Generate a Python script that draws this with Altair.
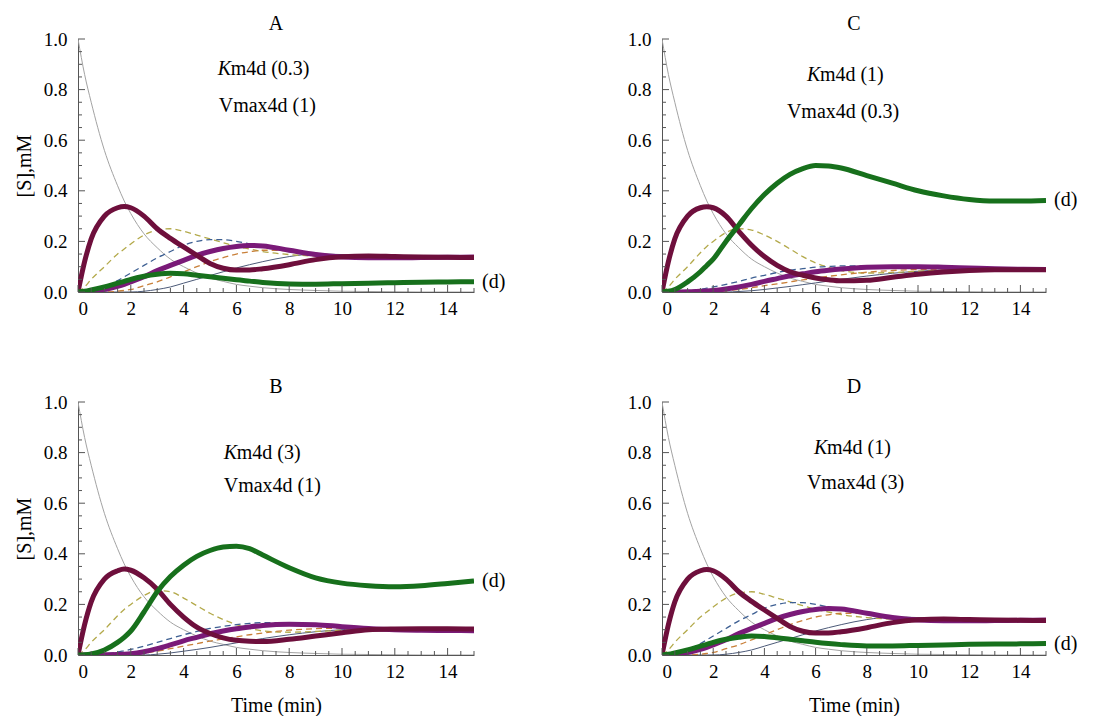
import altair as alt
import pandas as pd

FONT = "Liberation Serif, Times New Roman, serif"

# time grid (min)
T = [0, 0.25, 0.5, 1, 1.5, 1.75, 2, 2.5, 3, 3.5, 4, 4.5, 5, 5.5, 6, 6.5, 7, 8, 9, 10, 11, 12, 13, 14, 15]

# initial substrate (thin grey), same in all panels
GREY = [1.0, 0.86, 0.75, 0.56, 0.42, 0.36, 0.31, 0.23, 0.175, 0.13, 0.10, 0.075, 0.055, 0.042, 0.03, 0.023, 0.017, 0.01, 0.006, 0.003, 0.002, 0.001, 0, 0, 0]

# thick maroon
MAROON_A = [0, 0.12, 0.21, 0.30, 0.333, 0.338, 0.333, 0.30, 0.25, 0.212, 0.178, 0.145, 0.113, 0.094, 0.087, 0.087, 0.092, 0.108, 0.128, 0.139, 0.142, 0.14, 0.138, 0.137, 0.136]
MAROON_B = [0, 0.12, 0.21, 0.30, 0.333, 0.34, 0.335, 0.305, 0.26, 0.20, 0.15, 0.11, 0.085, 0.068, 0.058, 0.054, 0.053, 0.062, 0.075, 0.088, 0.10, 0.103, 0.104, 0.104, 0.103]
MAROON_C = [0, 0.12, 0.21, 0.30, 0.333, 0.337, 0.333, 0.30, 0.24, 0.185, 0.14, 0.105, 0.08, 0.066, 0.055, 0.048, 0.044, 0.046, 0.058, 0.07, 0.079, 0.085, 0.088, 0.088, 0.088]

# thick purple
PURPLE_A = [0, 0, 0.003, 0.01, 0.022, 0.03, 0.04, 0.06, 0.085, 0.105, 0.125, 0.145, 0.16, 0.172, 0.18, 0.184, 0.182, 0.165, 0.148, 0.138, 0.135, 0.135, 0.136, 0.137, 0.138]
PURPLE_B = [0, 0, 0, 0.001, 0.002, 0.003, 0.005, 0.013, 0.025, 0.04, 0.056, 0.07, 0.084, 0.095, 0.104, 0.111, 0.117, 0.122, 0.12, 0.112, 0.105, 0.1, 0.098, 0.097, 0.096]
PURPLE_C = [0, 0, 0, 0.001, 0.003, 0.004, 0.006, 0.012, 0.02, 0.03, 0.042, 0.053, 0.064, 0.072, 0.08, 0.086, 0.091, 0.098, 0.1, 0.1, 0.098, 0.095, 0.092, 0.09, 0.089]

# thick green (d)
GREEN_A = [0, 0.003, 0.008, 0.02, 0.035, 0.042, 0.05, 0.062, 0.07, 0.074, 0.072, 0.066, 0.06, 0.054, 0.048, 0.043, 0.038, 0.032, 0.031, 0.033, 0.035, 0.037, 0.039, 0.04, 0.041]
GREEN_B = [0, 0.001, 0.004, 0.02, 0.05, 0.07, 0.095, 0.17, 0.25, 0.31, 0.355, 0.39, 0.413, 0.427, 0.43, 0.42, 0.395, 0.345, 0.305, 0.284, 0.274, 0.27, 0.274, 0.283, 0.293]
GREEN_C = [0, 0.003, 0.01, 0.04, 0.08, 0.105, 0.13, 0.2, 0.265, 0.33, 0.385, 0.43, 0.465, 0.488, 0.5, 0.498, 0.49, 0.46, 0.43, 0.40, 0.38, 0.366, 0.36, 0.36, 0.362]
GREEN_D = [0, 0.003, 0.008, 0.02, 0.035, 0.042, 0.05, 0.062, 0.07, 0.075, 0.073, 0.068, 0.062, 0.056, 0.05, 0.045, 0.041, 0.036, 0.036, 0.038, 0.04, 0.042, 0.043, 0.044, 0.045]

# dashed intermediates
OLIVE_A = [0, 0.02, 0.05, 0.1, 0.15, 0.17, 0.19, 0.225, 0.245, 0.25, 0.24, 0.225, 0.21, 0.195, 0.18, 0.17, 0.16, 0.148, 0.142, 0.14, 0.14, 0.14, 0.14, 0.14, 0.14]
OLIVE_B = [0, 0.02, 0.05, 0.1, 0.155, 0.18, 0.2, 0.235, 0.255, 0.25, 0.225, 0.195, 0.165, 0.14, 0.12, 0.105, 0.095, 0.09, 0.093, 0.098, 0.102, 0.104, 0.104, 0.104, 0.104]
OLIVE_C = [0, 0.02, 0.05, 0.1, 0.155, 0.18, 0.2, 0.235, 0.25, 0.245, 0.225, 0.2, 0.17, 0.14, 0.115, 0.098, 0.085, 0.075, 0.077, 0.082, 0.086, 0.088, 0.089, 0.089, 0.089]

BLUE_A = [0, 0, 0.005, 0.02, 0.045, 0.06, 0.075, 0.105, 0.135, 0.16, 0.185, 0.2, 0.207, 0.207, 0.2, 0.19, 0.18, 0.16, 0.147, 0.14, 0.138, 0.138, 0.138, 0.138, 0.138]
BLUE_B = [0, 0, 0.001, 0.005, 0.012, 0.017, 0.022, 0.035, 0.05, 0.065, 0.08, 0.093, 0.105, 0.113, 0.12, 0.125, 0.128, 0.128, 0.122, 0.114, 0.107, 0.104, 0.103, 0.103, 0.103]
BLUE_C = [0, 0, 0.001, 0.004, 0.01, 0.015, 0.02, 0.03, 0.042, 0.055, 0.066, 0.077, 0.086, 0.092, 0.098, 0.101, 0.103, 0.103, 0.1, 0.096, 0.093, 0.09, 0.089, 0.089, 0.089]

ORANGE_A = [0, 0, 0, 0, 0.003, 0.006, 0.01, 0.025, 0.04, 0.06, 0.08, 0.1, 0.12, 0.136, 0.15, 0.159, 0.165, 0.163, 0.153, 0.145, 0.14, 0.139, 0.139, 0.139, 0.139]
ORANGE_B = [0, 0, 0, 0, 0.001, 0.002, 0.003, 0.008, 0.015, 0.025, 0.035, 0.045, 0.055, 0.063, 0.072, 0.08, 0.087, 0.098, 0.104, 0.106, 0.106, 0.105, 0.104, 0.104, 0.104]
ORANGE_C = [0, 0, 0, 0, 0, 0.001, 0.002, 0.005, 0.01, 0.017, 0.025, 0.032, 0.04, 0.048, 0.055, 0.062, 0.068, 0.078, 0.085, 0.089, 0.09, 0.09, 0.09, 0.09, 0.09]

# thin solid slate
SLATE_A = [0, 0, 0, 0, 0, 0, 0, 0.003, 0.01, 0.02, 0.035, 0.05, 0.065, 0.08, 0.095, 0.108, 0.12, 0.14, 0.15, 0.148, 0.143, 0.14, 0.139, 0.139, 0.139]
SLATE_B = [0, 0, 0, 0, 0, 0, 0, 0, 0.003, 0.008, 0.015, 0.022, 0.03, 0.039, 0.048, 0.057, 0.065, 0.08, 0.092, 0.1, 0.104, 0.105, 0.105, 0.105, 0.105]
SLATE_C = [0, 0, 0, 0, 0, 0, 0, 0, 0.002, 0.005, 0.01, 0.016, 0.022, 0.029, 0.036, 0.043, 0.05, 0.063, 0.074, 0.082, 0.087, 0.089, 0.09, 0.09, 0.09]

X_MAJOR = [0, 2, 4, 6, 8, 10, 12, 14]
Y_MAJOR = [0.0, 0.2, 0.4, 0.6, 0.8, 1.0]

COLORS = {
    "grey": "#a3a3a3", "slate": "#4c5a78",
    "olive": "#b3a94a", "blue": "#3d5f92", "orange": "#c9803a",
    "purple": "#7a1a78", "maroon": "#6e0f3c", "green": "#17701c",
}

PANELS = [
    dict(letter="A", km="m4d (0.3)", vm="Vmax4d (1)",
         solid={"grey": GREY, "slate": SLATE_A},
         dashed={"olive": OLIVE_A, "blue": BLUE_A, "orange": ORANGE_A},
         thick={"purple": PURPLE_A, "maroon": MAROON_A, "green": GREEN_A}),
    dict(letter="C", km="m4d (1)", vm="Vmax4d (0.3)",
         solid={"grey": GREY, "slate": SLATE_C},
         dashed={"olive": OLIVE_C, "blue": BLUE_C, "orange": ORANGE_C},
         thick={"purple": PURPLE_C, "maroon": MAROON_C, "green": GREEN_C}),
    dict(letter="B", km="m4d (3)", vm="Vmax4d (1)",
         solid={"grey": GREY, "slate": SLATE_B},
         dashed={"olive": OLIVE_B, "blue": BLUE_B, "orange": ORANGE_B},
         thick={"purple": PURPLE_B, "maroon": MAROON_B, "green": GREEN_B}),
    dict(letter="D", km="m4d (1)", vm="Vmax4d (3)",
         solid={"grey": GREY, "slate": SLATE_A},
         dashed={"olive": OLIVE_A, "blue": BLUE_A, "orange": ORANGE_A},
         thick={"purple": PURPLE_A, "maroon": MAROON_A, "green": GREEN_D}),
]

# layout (annotation anchor in data units, panel sizes in px)
LAYOUT = {
    "A": dict(w=396, kx=5.29, ky=0.88, vx=5.33, vy=0.735, ytitle=True, xtitle=False),
    "C": dict(w=384, kx=5.66, ky=0.857, vx=4.88, vy=0.71, ytitle=False, xtitle=False),
    "B": dict(w=396, kx=5.52, ky=0.797, vx=5.52, vy=0.667, ytitle=True, xtitle=True),
    "D": dict(w=384, kx=5.94, ky=0.817, vx=5.66, vy=0.679, ytitle=False, xtitle=True),
}
H = 253


def long_df(series):
    rows = []
    for name, vals in series.items():
        for t, v in zip(T, vals):
            rows.append({"t": t, "v": v, "s": name, "c": COLORS[name]})
    return pd.DataFrame(rows)


def make_panel(p):
    lay = LAYOUT[p["letter"]]
    W = lay["w"]
    xs = alt.Scale(domain=[0, 15], nice=False, zero=False)
    ys = alt.Scale(domain=[0, 1], nice=False)
    xaxis = alt.Axis(values=X_MAJOR, ticks=False, tickSize=0, grid=False, labelPadding=7,
                     title="Time (min)" if lay["xtitle"] else None, titlePadding=14,
                     domainColor="#555555")
    yaxis = alt.Axis(values=Y_MAJOR, format=".1f", ticks=False, tickSize=0, grid=False,
                     labelPadding=11, title="[S],mM" if lay["ytitle"] else None,
                     titlePadding=9, domainColor="#555555")

    def lines(series, width, dash=None):
        kw = dict(strokeWidth=width, interpolate="monotone", clip=True)
        if dash:
            kw["strokeDash"] = dash
        return alt.Chart(long_df(series)).mark_line(**kw).encode(
            x=alt.X("t:Q", scale=xs, axis=xaxis),
            y=alt.Y("v:Q", scale=ys, axis=yaxis),
            color=alt.Color("c:N", scale=None),
            detail="s:N",
        )

    solid = lines(p["solid"], 1.0)
    dashed = lines(p["dashed"], 1.3, [6, 4])
    thick = lines(p["thick"], 5)

    # inward ticks
    x_minor = [i * 0.5 for i in range(1, 31) if (i * 0.5) % 2 != 0]
    y_minor = [round(i * 0.05, 2) for i in range(1, 21) if i % 4 != 0]
    tick_style = dict(color="#555555", strokeWidth=1)
    xt_major = alt.Chart(pd.DataFrame({"t": X_MAJOR})).mark_rule(**tick_style).encode(
        x=alt.X("t:Q", scale=xs), y=alt.value(H), y2=alt.value(H - 7))
    xt_minor = alt.Chart(pd.DataFrame({"t": x_minor})).mark_rule(**tick_style).encode(
        x=alt.X("t:Q", scale=xs), y=alt.value(H), y2=alt.value(H - 4))
    yt_major = alt.Chart(pd.DataFrame({"v": Y_MAJOR})).mark_rule(**tick_style).encode(
        y=alt.Y("v:Q", scale=ys), x=alt.value(0), x2=alt.value(7))
    yt_minor = alt.Chart(pd.DataFrame({"v": y_minor})).mark_rule(**tick_style).encode(
        y=alt.Y("v:Q", scale=ys), x=alt.value(0), x2=alt.value(4))

    txt = dict(font=FONT, fontSize=20, color="black", baseline="middle", align="left")
    k_italic = alt.Chart(pd.DataFrame({"t": [lay["kx"]], "v": [lay["ky"]], "s": ["K"]})).mark_text(
        fontStyle="italic", **txt).encode(x=alt.X("t:Q", scale=xs), y=alt.Y("v:Q", scale=ys), text="s:N")
    k_rest = alt.Chart(pd.DataFrame({"t": [lay["kx"]], "v": [lay["ky"]], "s": [p["km"]]})).mark_text(
        dx=13, **txt).encode(x=alt.X("t:Q", scale=xs), y=alt.Y("v:Q", scale=ys), text="s:N")
    vm = alt.Chart(pd.DataFrame({"t": [lay["vx"]], "v": [lay["vy"]], "s": [p["vm"]]})).mark_text(
        **txt).encode(x=alt.X("t:Q", scale=xs), y=alt.Y("v:Q", scale=ys), text="s:N")
    green = p["thick"]["green"]
    dlab = alt.Chart(pd.DataFrame({"t": [T[-1]], "v": [green[-1]], "s": ["(d)"]})).mark_text(
        dx=8, **txt).encode(x=alt.X("t:Q", scale=xs), y=alt.Y("v:Q", scale=ys), text="s:N")

    return alt.layer(
        solid, dashed, thick, xt_major, xt_minor, yt_major, yt_minor, k_italic, k_rest, vm, dlab
    ).properties(
        width=W, height=H,
        title=alt.TitleParams(p["letter"], font=FONT, fontSize=20, fontWeight="normal",
                              color="black", anchor="middle", frame="group", offset=-4),
    )


charts = [make_panel(p) for p in PANELS]

chart = alt.concat(
    *charts, columns=2, spacing={"row": 110, "column": 188}, bounds="flush"
).properties(
    padding={"left": 14, "top": 14, "right": 5, "bottom": 5}
).configure_view(stroke=None).configure_axis(
    labelFont=FONT, labelFontSize=19, labelColor="black",
    titleFont=FONT, titleFontSize=20, titleFontWeight="normal", titleColor="black",
    domainWidth=1,
)

chart.save("out.html", embed_options={"renderer": "svg", "actions": False})
